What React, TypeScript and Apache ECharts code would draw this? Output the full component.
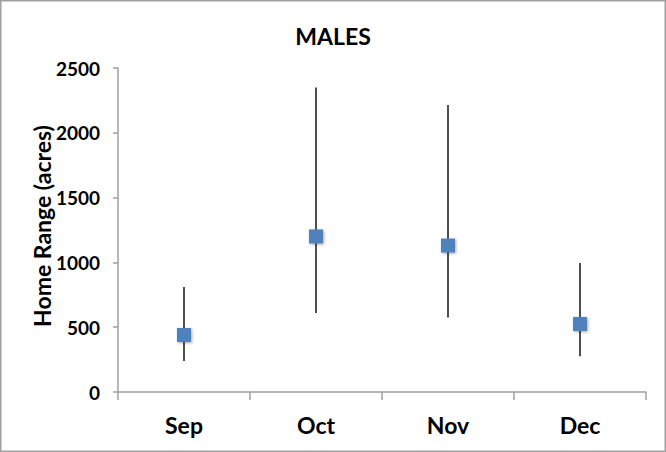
import React, { useEffect, useRef } from "react";
import * as echarts from "echarts";

const months = ["Sep", "Oct", "Nov", "Dec"];
const meanValues = [440, 1200, 1130, 525];
const lowValues = [240, 610, 575, 275];
const highValues = [810, 2350, 2215, 995];
const yTicks = [0, 500, 1000, 1500, 2000, 2500];

const FONT = "Lato, 'Open Sans', sans-serif";

export default function App() {
  const ref = useRef<HTMLDivElement>(null);
  useEffect(() => {
    if (!ref.current) return;
    const chart = echarts.init(ref.current, null, { renderer: "svg" });
    const barData = months.map((_, i) => [i, lowValues[i], highValues[i]]);
    chart.setOption({
      animation: false,
      backgroundColor: "#ffffff",
      title: {
        text: "MALES",
        left: "center",
        top: 19,
        textStyle: { fontFamily: FONT, fontWeight: "bold", fontSize: 23, color: "#000" },
      },
      grid: { left: 118, right: 20, top: 68, bottom: 60 },
      xAxis: {
        type: "category",
        data: months,
        boundaryGap: true,
        axisLine: { lineStyle: { color: "#a0a0a0", width: 1.5 } },
        axisTick: { show: true, length: 8, alignWithLabel: false, lineStyle: { color: "#a0a0a0", width: 1.5 } },
        axisLabel: { fontFamily: FONT, fontWeight: "bold", fontSize: 23, color: "#000", margin: 21 },
        splitLine: { show: false },
      },
      yAxis: {
        type: "value",
        min: yTicks[0],
        max: yTicks[yTicks.length - 1],
        interval: 500,
        axisLine: { show: true, onZero: false, lineStyle: { color: "#a0a0a0", width: 1.5 } },
        axisTick: { show: true, length: 5, lineStyle: { color: "#a0a0a0", width: 1.5 } },
        axisLabel: {
          fontFamily: FONT,
          fontWeight: "bold",
          fontSize: 19,
          color: "#000",
          margin: 18,
          formatter: (v: number) => String(v),
        },
        splitLine: { show: false },
      },
      graphic: [
        {
          type: "rect",
          shape: { x: 0.75, y: 0.75, width: 664.5, height: 450.5 },
          style: { fill: "none", stroke: "#a0a0a0", lineWidth: 1.5 },
          silent: true,
          z: 100,
        },
        {
          type: "text",
          x: 42,
          y: 226,
          rotation: Math.PI / 2,
          style: {
            text: "Home Range (acres)",
            fontFamily: FONT,
            fontWeight: "bold",
            fontSize: 23,
            fill: "#000",
            textAlign: "center",
            textVerticalAlign: "middle",
          },
        },
      ],
      series: [
        {
          type: "custom",
          data: barData,
          z: 1,
          renderItem: (params: any, api: any) => {
            const x = api.value(0);
            const lo = api.coord([x, api.value(1)]);
            const hi = api.coord([x, api.value(2)]);
            return {
              type: "line",
              shape: { x1: lo[0], y1: lo[1], x2: hi[0], y2: hi[1] },
              style: { stroke: "#222", lineWidth: 1.6 },
            };
          },
        },
        {
          type: "scatter",
          data: meanValues,
          symbol: "rect",
          symbolSize: 14,
          z: 5,
          itemStyle: {
            color: "#4f81bd",
            opacity: 1,
            shadowBlur: 3,
            shadowColor: "rgba(0,0,0,0.35)",
            shadowOffsetX: 1,
            shadowOffsetY: 1,
          },
        },
      ],
    });
    return () => chart.dispose();
  }, []);
  return (
    <div
      ref={ref}
      style={{ position: "fixed", left: 0, top: 0, width: 666, height: 452 }}
    />
  );
}
